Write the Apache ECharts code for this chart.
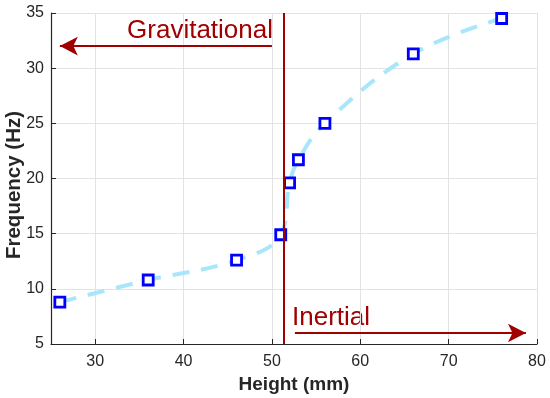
<!DOCTYPE html>
<html><head><meta charset="utf-8">
<script src="https://cdn.jsdelivr.net/npm/echarts@6/dist/echarts.min.js"></script>
<style>html,body{margin:0;padding:0;background:#fff}#c{width:550px;height:398px}</style>
</head><body><div id="c"></div>
<script>
var heights = [26, 36, 46, 51, 52, 53, 56, 66, 76];
var freqs = [8.8, 10.8, 12.6, 14.9, 19.6, 21.7, 25.0, 31.3, 34.5];
var xTicks = [30, 40, 50, 60, 70, 80];
var transitionX = 51.3;
var gravArrow = [[50.0, 32.0], [26.0, 32.0]];
var inertArrow = [[52.6, 6.0], [78.75, 6.0]];
var xTitle = 'Height (mm)';
var yTitle = 'Frequency (Hz)';
var FONT = '"Liberation Sans", Arial, Helvetica, sans-serif';
var RED = '#a00000';

var chart = echarts.init(document.getElementById('c'), null, {renderer: 'canvas'});
chart.setOption({
  animation: false,
  grid: {left: 51, right: 13, top: 13, bottom: 54, containLabel: false, outerBoundsMode: 'none'},
  xAxis: {
    type: 'value', min: 25, max: 80, interval: 5,
    name: xTitle, nameLocation: 'middle', nameGap: 31,
    nameTextStyle: {fontFamily: FONT, fontSize: 19, fontWeight: 'bold', color: '#262626'},
    axisLine: {show: true, lineStyle: {color: '#262626', width: 1.2}},
    axisTick: {show: true, inside: true, length: 5, customValues: xTicks, lineStyle: {color: '#262626'}},
    axisLabel: {customValues: xTicks, fontFamily: FONT, fontSize: 16, color: '#262626', margin: 10},
    splitLine: {show: true, customValues: xTicks, lineStyle: {color: '#e3e3e3', width: 1}}
  },
  yAxis: {
    type: 'value', min: 5, max: 35, interval: 5,
    axisLine: {show: true, lineStyle: {color: '#262626', width: 1.2}},
    axisTick: {show: true, inside: true, length: 5, lineStyle: {color: '#262626'}},
    axisLabel: {fontFamily: FONT, fontSize: 16, color: '#262626', margin: 7},
    splitLine: {show: true, lineStyle: {color: '#e3e3e3', width: 1}}
  },
  series: [
    {
      type: 'line',
      data: heights.map(function (h, i) { return [h, freqs[i]]; }),
      smooth: 0.4,
      lineStyle: {color: '#a8e6fb', width: 4, type: [17, 12]},
      symbol: 'rect', symbolSize: 10,
      itemStyle: {color: '#ffffff', borderColor: '#0000ff', borderWidth: 2.8},
      z: 3,
      markLine: {
        silent: true, symbol: ['none', 'none'], label: {show: false},
        lineStyle: {color: RED, width: 2, type: 'solid'},
        data: [{xAxis: transitionX}]
      }
    },
    {
      type: 'line', data: [], z: 4,
      markLine: {
        silent: true, symbol: ['none', 'arrow'], symbolSize: [14, 18], label: {show: false},
        lineStyle: {color: RED, width: 2, type: 'solid'},
        data: [
          [{coord: gravArrow[0]}, {coord: gravArrow[1]}],
          [{coord: inertArrow[0]}, {coord: inertArrow[1]}]
        ]
      }
    }
  ],
  graphic: [
    {type: 'text', x: 14, y: 185, rotation: Math.PI / 2,
     style: {text: yTitle, fill: '#262626', font: 'bold 20.5px ' + FONT, align: 'center', verticalAlign: 'middle'}},
    {type: 'text', right: 550 - 273, top: 18, style: {text: 'Gravitational', fill: RED, font: '26px ' + FONT}},
    {type: 'text', left: 292, top: 305, style: {text: 'Inertial', fill: RED, font: '26px ' + FONT}}
  ]
});
</script></body></html>
